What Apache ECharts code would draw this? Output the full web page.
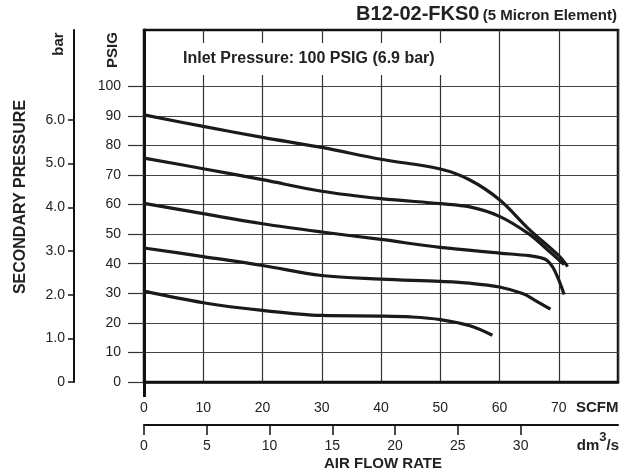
<!DOCTYPE html>
<html>
<head>
<meta charset="utf-8">
<script src="https://cdn.jsdelivr.net/npm/echarts@6/dist/echarts.min.js"></script>
<style>html,body{margin:0;padding:0;background:#fff}#c{width:634px;height:474px}</style>
</head>
<body>
<div id="c"></div>
<script>
// ---- data ----
const scfmTicks = [0, 10, 20, 30, 40, 50, 60, 70];
const psigTicks = [0, 10, 20, 30, 40, 50, 60, 70, 80, 90, 100];
const barTicks = [0, 1, 2, 3, 4, 5, 6];
const dmTicks = [0, 5, 10, 15, 20, 25, 30];

const curve1X = [0, 10, 20, 30, 40, 50, 55, 60, 65, 70, 71.5];
const curve1Y = [90.3, 86.4, 82.7, 79.3, 75.3, 72.0, 68.3, 61.6, 51.6, 42.7, 39.0];
const curve2X = [0, 10, 20, 30, 40, 50, 55, 60, 65, 68, 70, 70.9];
const curve2Y = [75.7, 72.1, 68.4, 64.5, 62.0, 60.3, 59.2, 56.0, 50.0, 44.9, 41.3, 39.7];
const curve3X = [0, 10, 20, 30, 40, 50, 60, 65, 67, 68, 69, 70, 70.9];
const curve3Y = [60.4, 56.9, 53.5, 50.7, 48.2, 45.5, 43.6, 42.7, 42.0, 41.2, 38.8, 34.5, 29.6];
const curve4X = [0, 10, 20, 30, 40, 50, 55, 60, 64, 66, 68.6];
const curve4Y = [45.3, 42.4, 39.4, 36.0, 34.8, 34.0, 33.4, 32.1, 29.8, 27.6, 24.6];
const curve5X = [0, 10, 20, 30, 40, 45, 50, 55, 58.8];
const curve5Y = [30.7, 26.8, 24.2, 22.5, 22.3, 22.0, 21.1, 19.0, 15.8];

const curvesX = [curve1X, curve2X, curve3X, curve4X, curve5X];
const curvesY = [curve1Y, curve2Y, curve3Y, curve4Y, curve5Y];

const FONT = 'Liberation Sans, Arial, Helvetica, sans-serif';
const SCFM_MAX = 80;
const DM_PER_SCFM = 0.47195;
const PSIG_MAX = 119;
const BAR_MAX = 8.06;

const chart = echarts.init(document.getElementById('c'), null, {renderer: 'canvas'});

const series = curvesX.map((xs, i) => ({
  type: 'line',
  xAxisIndex: 0,
  yAxisIndex: 0,
  data: xs.map((x, j) => [x, curvesY[i][j]]),
  showSymbol: false,
  symbol: 'none',
  smooth: 0.35,
  lineStyle: {color: '#1a1a1a', width: 3.2},
  z: 5,
  silent: true
}));

const option = {
  animation: false,
  grid: {left: 144, right: 16, top: 30, bottom: 92, show: true, borderColor: '#111', borderWidth: 2.5, containLabel: false},
  xAxis: [
    {
      type: 'value', min: 0, max: SCFM_MAX, interval: 10, position: 'bottom',
      axisLine: {show: true, onZero: false, lineStyle: {color: '#111', width: 2.5}},
      axisTick: {show: false},
      axisLabel: {color: '#222', fontSize: 14, fontFamily: FONT, margin: 19,
        formatter: v => (scfmTicks.indexOf(v) >= 0 ? String(v) : '')},
      splitLine: {show: true, lineStyle: {color: '#333', width: 1.2}}
    },
    {
      type: 'value', min: 0, max: SCFM_MAX * DM_PER_SCFM, position: 'bottom', offset: 43,
      axisLine: {show: true, onZero: false, lineStyle: {color: '#111', width: 2}},
      axisTick: {show: true, customValues: dmTicks, length: 10, inside: false, lineStyle: {color: '#111', width: 1.5}},
      axisLabel: {customValues: dmTicks, margin: 14, color: '#222', fontSize: 14, fontFamily: FONT},
      splitLine: {show: false}
    },
    {
      type: 'value', min: 0, max: SCFM_MAX, position: 'bottom', offset: 0,
      axisLine: {show: false, onZero: false},
      axisTick: {show: true, customValues: [0], length: 15, inside: false, lineStyle: {color: '#111', width: 3}},
      axisLabel: {show: false},
      splitLine: {show: false}
    }
  ],
  yAxis: [
    {
      type: 'value', min: 0, max: PSIG_MAX, interval: 10, position: 'left',
      axisLine: {show: true, onZero: false, lineStyle: {color: '#111', width: 3}},
      axisTick: {show: true, customValues: psigTicks, length: 16, inside: false, lineStyle: {color: '#333', width: 1.2}},
      axisLabel: {customValues: psigTicks, margin: 23, color: '#222', fontSize: 14, fontFamily: FONT},
      splitLine: {show: true, lineStyle: {color: '#444', width: 1.2}}
    },
    {
      type: 'value', min: 0, max: BAR_MAX, position: 'left', offset: 70,
      axisLine: {show: true, onZero: false, lineStyle: {color: '#111', width: 2}},
      axisTick: {show: true, customValues: barTicks, length: 6, inside: false, lineStyle: {color: '#111', width: 1.5}},
      axisLabel: {customValues: barTicks, margin: 9, color: '#222', fontSize: 14, fontFamily: FONT,
        formatter: v => (v === 0 ? '0' : v.toFixed(1))},
      splitLine: {show: false}
    }
  ],
  series: series,
  graphic: [
    {type: 'rect', z: 20, shape: {x: 177, y: 43, width: 270, height: 32}, style: {fill: '#fff'}},
    {type: 'text', z: 21, x: 183, y: 59, style: {text: 'Inlet Pressure: 100 PSIG (6.9 bar)', font: 'bold 16px ' + FONT, fill: '#222', align: 'left', verticalAlign: 'middle'}},
    {type: 'text', z: 21, x: 617, y: 14, style: {
      text: '{a|B12-02-FKS0} {b|(5 Micron Element)}', align: 'right', verticalAlign: 'middle',
      rich: {
        a: {font: 'bold 20px ' + FONT, fill: '#222', verticalAlign: 'bottom'},
        b: {font: 'bold 15px ' + FONT, fill: '#222', verticalAlign: 'bottom', padding: [0, 0, 1, 0]}
      }}},
    {type: 'text', z: 21, x: 59, y: 44, rotation: Math.PI / 2, style: {text: 'bar', font: 'bold 15px ' + FONT, fill: '#222', align: 'center', verticalAlign: 'middle'}},
    {type: 'text', z: 21, x: 112.5, y: 50, rotation: Math.PI / 2, style: {text: 'PSIG', font: 'bold 15px ' + FONT, fill: '#222', align: 'center', verticalAlign: 'middle'}},
    {type: 'text', z: 21, x: 21, y: 197, rotation: Math.PI / 2, style: {text: 'SECONDARY PRESSURE', font: 'bold 16px ' + FONT, fill: '#222', align: 'center', verticalAlign: 'middle'}},
    {type: 'text', z: 21, x: 576, y: 408, style: {text: 'SCFM', font: 'bold 15px ' + FONT, fill: '#222', align: 'left', verticalAlign: 'middle'}},
    {type: 'text', z: 21, x: 619, y: 442, style: {
      text: '{a|dm}{s|3}{a|/s}', align: 'right', verticalAlign: 'middle',
      rich: {
        a: {font: 'bold 15px ' + FONT, fill: '#222', verticalAlign: 'bottom', lineHeight: 22},
        s: {font: 'bold 13px ' + FONT, fill: '#222', verticalAlign: 'top', lineHeight: 13}
      }}},
    {type: 'text', z: 21, x: 383, y: 464, style: {text: 'AIR FLOW RATE', font: 'bold 15px ' + FONT, fill: '#222', align: 'center', verticalAlign: 'middle'}}
  ]
};
chart.setOption(option);
</script>
</body>
</html>
